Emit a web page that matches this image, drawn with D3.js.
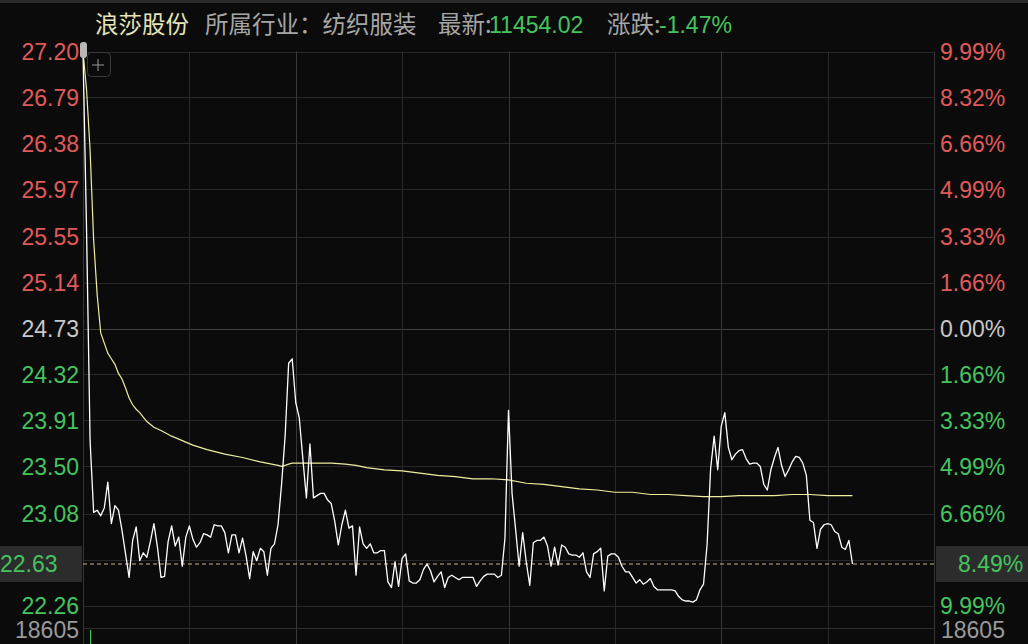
<!DOCTYPE html>
<html><head><meta charset="utf-8">
<script src="https://cdn.jsdelivr.net/npm/d3@7"></script>
<style>
html,body{margin:0;padding:0;background:#0b0b0b;overflow:hidden;}
svg{display:block;}
</style></head>
<body>
<svg id="c" width="1028" height="644"></svg>
<script>
// ---------- data ----------
const stockName = "浪莎股份";
const industryText = "所属行业：纺织服装";
const latestLabel = "最新:";
const latestValue = "11454.02";
const changeLabel = "涨跌:";
const changeValue = "-1.47%";

const preClose = 24.73;
const priceMax = 27.20;
const priceMin = 22.26;
const lastPrice = 22.63;
const lastPct = "8.49%";
const maxVolumeLabel = "18605";

const leftTicks = [27.20, 26.79, 26.38, 25.97, 25.55, 25.14, 24.73, 24.32, 23.91, 23.50, 23.08, 22.67, 22.26];
const rightTicks = ["9.99%", "8.32%", "6.66%", "4.99%", "3.33%", "1.66%", "0.00%", "1.66%", "3.33%", "4.99%", "6.66%", "8.32%", "9.99%"];
const timeGrid = [0, 30, 60, 90, 120, 150, 180, 210, 240];
const hourGrid = [60, 120, 180];

// price per minute (minute index = array position)
const prices = [
27.20,25.61,23.73,23.09,23.11,23.06,23.13,23.36,22.99,23.15,
23.11,22.93,22.72,22.51,22.84,22.96,22.66,22.73,22.69,22.83,
22.99,22.78,22.51,22.52,22.83,22.97,22.79,22.87,22.61,22.87,
22.97,22.85,22.78,22.82,22.90,22.89,22.87,22.98,22.97,22.97,
22.91,22.73,22.89,22.89,22.73,22.86,22.70,22.50,22.74,22.66,
22.77,22.74,22.53,22.77,22.81,22.98,23.34,23.77,24.42,24.46,
24.07,23.93,23.57,23.22,23.70,23.22,23.24,23.26,23.26,23.20,
23.17,23.01,22.80,22.98,23.11,22.95,22.97,22.53,22.96,22.81,
22.77,22.81,22.73,22.73,22.75,22.75,22.47,22.42,22.65,22.43,
22.68,22.72,22.48,22.46,22.46,22.49,22.58,22.63,22.57,22.47,
22.52,22.56,22.42,22.51,22.53,22.51,22.49,22.51,22.51,22.51,
22.51,22.43,22.48,22.52,22.54,22.54,22.54,22.51,22.53,22.86,
24.00,23.26,22.94,22.61,22.91,22.65,22.44,22.82,22.84,22.84,
22.87,22.79,22.61,22.78,22.62,22.80,22.78,22.72,22.71,22.71,
22.69,22.73,22.56,22.51,22.72,22.74,22.77,22.39,22.70,22.72,
22.72,22.69,22.61,22.56,22.56,22.51,22.46,22.49,22.45,22.47,
22.50,22.43,22.40,22.40,22.40,22.40,22.40,22.39,22.34,22.31,
22.30,22.30,22.29,22.31,22.40,22.45,22.80,23.48,23.77,23.47,
23.86,23.98,23.67,23.56,23.61,23.64,23.65,23.57,23.52,23.53,
23.53,23.50,23.34,23.29,23.47,23.58,23.67,23.51,23.41,23.47,
23.54,23.59,23.58,23.53,23.42,23.02,23.00,22.77,22.94,22.98,
22.99,22.98,22.92,22.90,22.78,22.76,22.84,22.63
];

// average price line, read at these minutes
const avgMinutes = [0,1,2,3,4,5,6,7,8,9,10,11,12,13,14,15,16,18,20,22,25,28,31,35,40,45,50,55,
  56,57,58,59,62,66,70,74,77,80,85,90,95,100,
  105,110,115,120,125,130,135,140,145,150,155,160,165,170,175,180,185,190,195,200,205,210,217];
const avgPrices = [27.20,26.86,26.32,25.52,25.03,24.69,24.60,24.51,24.46,24.41,24.33,24.28,24.20,24.11,24.05,24.01,23.98,
  23.90,23.85,23.82,23.77,23.73,23.69,23.65,23.61,23.58,23.54,23.51,
  23.50,23.51,23.52,23.53,23.53,23.53,23.53,23.52,23.51,23.49,23.47,23.46,23.44,23.42,
  23.41,23.39,23.39,23.38,23.35,23.34,23.32,23.30,23.29,23.27,23.27,23.25,23.25,23.24,23.23,23.23,23.24,23.24,23.24,23.25,23.25,23.24,
  23.24];

// visible volume bar
const volMinutes = [2];
const volValues = [18605];

// ---------- drawing ----------
const svg = d3.select("#c");
const W = 1028, H = 644;
const L = 83, R = 934, T = 51.5, B = 605.5;
const RED = "#e05a5a", GREEN = "#45c35e", NEUTRAL = "#c8c8c8", GRID = "#282828", GRID2 = "#383838";
const NUM_FONT = "'Liberation Sans', Arial, sans-serif";
const CJK_FONT = "'Noto Sans CJK SC', 'Noto Sans', sans-serif";

svg.append("rect").attr("width", W).attr("height", H).attr("fill", "#0b0b0b");
svg.append("rect").attr("width", W).attr("height", 3).attr("fill", "#2a2a2a");

const x = d3.scaleLinear().domain([0, 240]).range([L, R]);
const y = d3.scaleLinear().domain([priceMin, priceMax]).range([B, T]);
const yc = y(lastPrice);

// horizontal grid
svg.append("g").selectAll("line").data(leftTicks).join("line")
  .attr("x1", L).attr("x2", R)
  .attr("y1", d => Math.round(y(d)) + 0.5).attr("y2", d => Math.round(y(d)) + 0.5)
  .attr("stroke", d => d === preClose ? "#404040" : GRID).attr("stroke-width", 1);

// vertical grid (price pane + volume pane)
svg.append("g").selectAll("line").data(timeGrid).join("line")
  .attr("x1", d => Math.round(x(d)) + 0.5).attr("x2", d => Math.round(x(d)) + 0.5)
  .attr("y1", T).attr("y2", H)
  .attr("stroke", d => (d === 0 || d === 240) ? "#363636" : (hourGrid.includes(d) ? GRID2 : GRID));

// volume pane top line
svg.append("line").attr("x1", L).attr("x2", R).attr("y1", 628.5).attr("y2", 628.5).attr("stroke", "#2e2e2e");

// volume bars
const yv = d3.scaleLinear().domain([0, d3.max(volValues)]).range([H + 120, 630]);
svg.append("g").selectAll("line").data(volMinutes).join("line")
  .attr("x1", (d) => x(d) + 0.5).attr("x2", d => x(d) + 0.5)
  .attr("y1", (d, i) => yv(volValues[i])).attr("y2", H)
  .attr("stroke", GREEN).attr("stroke-width", 1.2);

// current price dashed line
svg.append("line").attr("x1", L).attr("x2", R)
  .attr("y1", yc).attr("y2", yc)
  .attr("stroke", "#c9b48a").attr("stroke-dasharray", "4,3").attr("stroke-width", 1);

// average line
const avgData = avgMinutes.map((m, i) => [m, avgPrices[i]]);
svg.append("path").datum(avgData)
  .attr("fill", "none").attr("stroke", "#eeeea0").attr("stroke-width", 1.2)
  .attr("d", d3.line().x(d => x(d[0])).y(d => y(d[1])));

// price line
svg.append("path").datum(prices)
  .attr("fill", "none").attr("stroke", "#ffffff").attr("stroke-width", 1.3)
  .attr("stroke-linejoin", "round")
  .attr("d", d3.line().x((d, i) => x(i)).y(d => y(d)));

// axis labels (those hidden under the current-price boxes are skipped)
const colorFor = (v) => v > preClose ? RED : (v < preClose ? GREEN : NEUTRAL);
const visibleTicks = leftTicks.filter(v => Math.abs(y(v) - yc) > 20);
const leftAxis = d3.axisLeft(y).tickValues(visibleTicks).tickSize(0).tickPadding(0).tickFormat(d3.format(".2f"));
const gl = svg.append("g").attr("transform", `translate(79,0)`).call(leftAxis);
gl.select(".domain").remove();
gl.selectAll("text").attr("font-family", NUM_FONT).attr("font-size", 23)
  .attr("fill", d => colorFor(d)).attr("dy", "0.36em");

const rightAxis = d3.axisRight(y).tickValues(visibleTicks).tickSize(0).tickPadding(0)
  .tickFormat(d => rightTicks[leftTicks.indexOf(d)]);
const gr = svg.append("g").attr("transform", `translate(940,0)`).call(rightAxis);
gr.select(".domain").remove();
gr.selectAll("text").attr("font-family", NUM_FONT).attr("font-size", 23)
  .attr("fill", d => colorFor(d)).attr("dy", "0.36em");

// current price boxes
svg.append("rect").attr("x", 0).attr("y", yc - 18).attr("width", 82).attr("height", 36).attr("fill", "#2c2c2c");
svg.append("text").attr("x", 0).attr("y", yc).attr("dy", "0.36em")
  .attr("font-family", NUM_FONT).attr("font-size", 23).attr("fill", GREEN).text(d3.format(".2f")(lastPrice));
svg.append("rect").attr("x", 936).attr("y", yc - 18).attr("width", 92).attr("height", 36).attr("fill", "#2c2c2c");
svg.append("text").attr("x", 958).attr("y", yc).attr("dy", "0.36em")
  .attr("font-family", NUM_FONT).attr("font-size", 23).attr("fill", GREEN).text(lastPct);

// volume max labels
svg.append("text").attr("x", 79).attr("y", 630).attr("dy", "0.36em").attr("text-anchor", "end")
  .attr("font-family", NUM_FONT).attr("font-size", 23).attr("fill", "#9a9a9a").text(maxVolumeLabel);
svg.append("text").attr("x", 941).attr("y", 630).attr("dy", "0.36em")
  .attr("font-family", NUM_FONT).attr("font-size", 23).attr("fill", "#9a9a9a").text(maxVolumeLabel);

// title
const title = svg.append("g").attr("font-size", 23.5);
title.append("text").attr("x", 95).attr("y", 33).attr("font-family", CJK_FONT).attr("fill", "#e6e4b6").text(stockName);
title.append("text").attr("x", 205).attr("y", 33).attr("font-family", CJK_FONT).attr("fill", "#a6a6a6").text(industryText);
title.append("text").attr("x", 438).attr("y", 33).attr("font-family", CJK_FONT).attr("fill", "#a6a6a6").text(latestLabel);
title.append("text").attr("x", 489).attr("y", 33).attr("font-family", NUM_FONT).attr("font-size", 23).attr("fill", GREEN).text(latestValue);
title.append("text").attr("x", 607).attr("y", 33).attr("font-family", CJK_FONT).attr("fill", "#a6a6a6").text(changeLabel);
title.append("text").attr("x", 659).attr("y", 33).attr("font-family", NUM_FONT).attr("font-size", 23).attr("fill", GREEN).text(changeValue);

// crosshair button and handle
svg.append("rect").attr("x", 87.5).attr("y", 52.5).attr("width", 23).attr("height", 24).attr("rx", 4)
  .attr("fill", "#0b0b0b").attr("stroke", "#3a3a3a");
svg.append("line").attr("x1", 92).attr("x2", 104).attr("y1", 65).attr("y2", 65).attr("stroke", "#9a9a9a");
svg.append("line").attr("x1", 98).attr("x2", 98).attr("y1", 59).attr("y2", 71).attr("stroke", "#9a9a9a");
svg.append("rect").attr("x", 80).attr("y", 42).attr("width", 7).attr("height", 16).attr("rx", 3).attr("fill", "#b8b8b8");
</script>
</body></html>
